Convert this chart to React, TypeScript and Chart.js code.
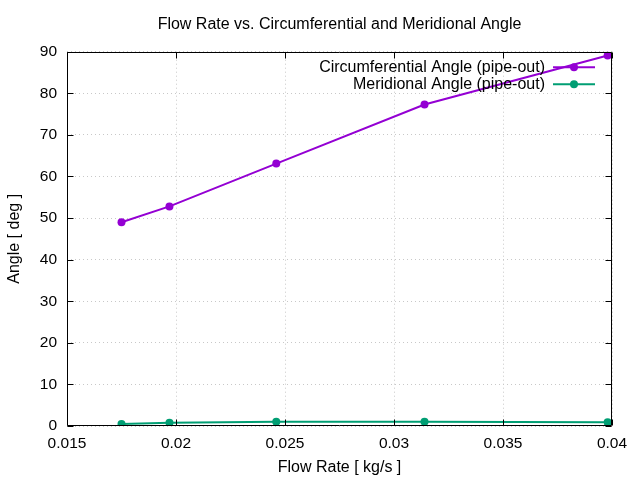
import { useEffect, useRef } from "react";
import { Chart, registerables } from "chart.js";

Chart.register(...registerables);

const flowRates = [0.0175, 0.0197, 0.0246, 0.0314, 0.0398];
const circumferentialAngle = [49.0, 52.8, 63.1, 77.3, 89.1];
const meridionalAngle = [0.5, 0.8, 1.0, 1.0, 0.9];
const seriesLabels = ["Circumferential Angle (pipe-out)", "Meridional Angle (pipe-out)"];
const seriesColors = ["#9400D3", "#009E73"];
const chartTitle = "Flow Rate vs. Circumferential and Meridional Angle";
const xTitle = "Flow Rate [ kg/s ]";
const yTitle = "Angle [ deg ]";

const FONT = "'Liberation Sans', Arial, sans-serif";

const framePlugin = {
  id: "frame",
  afterDraw(chart: any) {
    const { ctx, chartArea: a, scales } = chart;
    const L = Math.round(a.left) + 0.5;
    const R = Math.round(a.right) - 0.5;
    const T = Math.round(a.top) + 0.5;
    const B = Math.round(a.bottom) - 0.5;
    ctx.save();
    ctx.strokeStyle = "#000";
    ctx.lineWidth = 1;
    ctx.beginPath();
    ctx.rect(L, T, R - L, B - T);
    ctx.stroke();
    const tl = 6;
    ctx.beginPath();
    scales.x.ticks.forEach((t: any) => {
      const p = Math.round(scales.x.getPixelForValue(t.value)) + 0.5;
      ctx.moveTo(p, B);
      ctx.lineTo(p, B - tl);
      ctx.moveTo(p, T);
      ctx.lineTo(p, T + tl);
    });
    scales.y.ticks.forEach((t: any) => {
      const p = Math.round(scales.y.getPixelForValue(t.value)) + 0.5;
      ctx.moveTo(L, p);
      ctx.lineTo(L + tl, p);
      ctx.moveTo(R, p);
      ctx.lineTo(R - tl, p);
    });
    ctx.stroke();

    // title, centred over the plot area
    ctx.font = `16px ${FONT}`;
    ctx.fillStyle = "#000";
    ctx.textAlign = "center";
    ctx.textBaseline = "middle";
    ctx.fillText(chartTitle, (a.left + a.right) / 2, a.top - 27.5);

    // key (legend) in the top-right, text right-aligned, sample on the right
    ctx.textAlign = "right";
    chart.data.datasets.forEach((ds: any, i: number) => {
      const y = a.top + 15.5 + i * 17;
      const textRight = a.right - 67;
      ctx.fillStyle = "#000";
      ctx.fillText(ds.label, textRight, y);
      ctx.strokeStyle = ds.borderColor;
      ctx.lineWidth = 2;
      ctx.beginPath();
      ctx.moveTo(a.right - 59, y);
      ctx.lineTo(a.right - 17, y);
      ctx.stroke();
      ctx.fillStyle = ds.backgroundColor;
      ctx.beginPath();
      ctx.arc(a.right - 38, y, 4, 0, Math.PI * 2);
      ctx.fill();
    });
    ctx.restore();
  },
};

export default function App() {
  const ref = useRef<HTMLCanvasElement | null>(null);
  useEffect(() => {
    if (!ref.current) return;
    const mk = (vals: number[]) => flowRates.map((x, i) => ({ x, y: vals[i] }));
    const chart = new Chart(ref.current, {
      type: "line",
      data: {
        datasets: [
          {
            label: seriesLabels[0],
            data: mk(circumferentialAngle),
            borderColor: seriesColors[0],
            backgroundColor: seriesColors[0],
            borderWidth: 2,
            pointRadius: 4,
            pointHoverRadius: 4,
            pointBorderWidth: 0,
          },
          {
            label: seriesLabels[1],
            data: mk(meridionalAngle),
            borderColor: seriesColors[1],
            backgroundColor: seriesColors[1],
            borderWidth: 2,
            pointRadius: 4,
            pointHoverRadius: 4,
            pointBorderWidth: 0,
          },
        ],
      },
      options: {
        animation: false,
        responsive: false,
        devicePixelRatio: 1,
        layout: { padding: { left: 0, right: 28, top: 51.7, bottom: 0 } },
        plugins: {
          legend: { display: false },
          tooltip: { enabled: false },
          title: { display: false },
        },
        scales: {
          x: {
            type: "linear",
            min: 0.015,
            max: 0.04,
            afterFit: (s: any) => {
              s.height = 54;
            },
            ticks: {
              stepSize: 0.005,
              color: "#000",
              padding: 8,
              maxRotation: 0,
              font: { family: FONT, size: 15.5 },
              callback: (v: any) => parseFloat(Number(v).toFixed(4)).toString(),
            },
            grid: { color: "#c8c8c8", drawTicks: false, lineWidth: 1 },
            border: { display: false, dash: [1, 3] },
            title: {
              display: true,
              text: xTitle,
              color: "#000",
              font: { family: FONT, size: 16 },
              padding: { top: 0, bottom: 2.5 },
            },
          },
          y: {
            type: "linear",
            min: 0,
            max: 90,
            afterFit: (s: any) => {
              s.width = 67;
            },
            ticks: {
              stepSize: 10,
              color: "#000",
              padding: 10,
              font: { family: FONT, size: 15.5 },
            },
            grid: { color: "#c8c8c8", drawTicks: false, lineWidth: 1 },
            border: { display: false, dash: [1, 3] },
            title: {
              display: true,
              text: yTitle,
              color: "#000",
              font: { family: FONT, size: 16 },
              padding: { top: 5, bottom: 0 },
            },
          },
        },
      },
      plugins: [framePlugin],
    });
    return () => chart.destroy();
  }, []);
  return (
    <div style={{ position: "absolute", left: 0, top: 0, width: 640, height: 480 }}>
      <canvas ref={ref} width={640} height={480} />
    </div>
  );
}
